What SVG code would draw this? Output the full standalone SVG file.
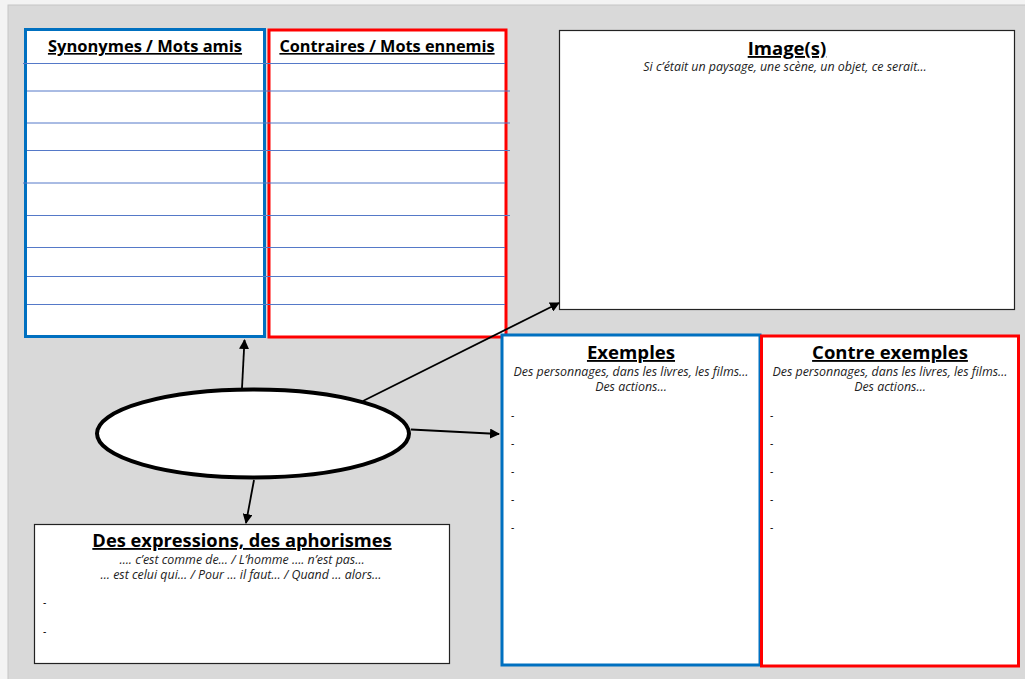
<svg xmlns="http://www.w3.org/2000/svg" width="1025" height="679" viewBox="0 0 1025 679">
<style>
.t{font-family:"Open Sans","Liberation Sans",sans-serif;fill:#000;text-anchor:middle}
.h{font-weight:bold;text-decoration:underline}
.s{font-style:italic;font-size:12.4px;fill:#222}
.d{font-family:"Liberation Sans",sans-serif;font-size:10px;fill:#000}
.ln{stroke:#5579c8;stroke-width:1}
.cn{stroke:#000;stroke-width:1.8;fill:none;marker-end:url(#ah)}
</style>
<defs>
<marker id="ah" markerWidth="10" markerHeight="10" refX="9" refY="5" orient="auto" markerUnits="userSpaceOnUse">
<path d="M0,0 L10,5 L0,10 z" fill="#000"/>
</marker>
</defs>
<rect x="0" y="0" width="1025" height="679" fill="#f3f3f3"/>
<rect x="8" y="5" width="1020" height="680" fill="#d9d9d9" stroke="#c6c6c6" stroke-width="1"/>

<g id="synonymes">
<rect x="25.5" y="29.5" width="239" height="307" fill="#fff" stroke="#0070c0" stroke-width="3"/>
<text class="t h" x="145" y="52" font-size="16.5">Synonymes / Mots amis</text>
</g>
<g id="contraires">
<rect x="269" y="30" width="237" height="307" fill="#fff" stroke="#ff0000" stroke-width="3"/>
<text class="t h" x="387" y="52" font-size="16.3">Contraires / Mots ennemis</text>
</g>
<g id="lignes">
<line class="ln" x1="23" y1="63.5" x2="505" y2="63.5"/>
<line class="ln" x1="27" y1="91" x2="510" y2="91"/>
<line class="ln" x1="27" y1="123" x2="510" y2="123"/>
<line class="ln" x1="27" y1="150.5" x2="510" y2="150.5"/>
<line class="ln" x1="23" y1="183" x2="505" y2="183"/>
<line class="ln" x1="27" y1="215.5" x2="510" y2="215.5"/>
<line class="ln" x1="27" y1="247.5" x2="505" y2="247.5"/>
<line class="ln" x1="27" y1="276.5" x2="505" y2="276.5"/>
<line class="ln" x1="27" y1="304.5" x2="505" y2="304.5"/>
</g>

<g id="image">
<rect x="559.5" y="30.5" width="455" height="279" fill="#fff" stroke="#222" stroke-width="1.2"/>
<text class="t h" x="787" y="55" font-size="18.5">Image(s)</text>
<text class="t s" x="785" y="71" font-size="9.7">Si c’était un paysage, une scène, un objet, ce serait…</text>
</g>

<g id="exemples">
<rect x="502" y="335" width="258" height="330" fill="#fff" stroke="#0070c0" stroke-width="3"/>
<text class="t h" x="631" y="359" font-size="18.6">Exemples</text>
<text class="t s" x="631" y="376">Des personnages, dans les livres, les films…</text>
<text class="t s" x="631" y="391">Des actions…</text>
<text class="d" x="511" y="419">-</text>
<text class="d" x="511" y="447">-</text>
<text class="d" x="511" y="475">-</text>
<text class="d" x="511" y="503">-</text>
<text class="d" x="511" y="531">-</text>
</g>

<g id="contre-exemples">
<rect x="761.5" y="336" width="257" height="330" fill="#fff" stroke="#ff0000" stroke-width="3"/>
<text class="t h" x="890" y="359" font-size="18.5">Contre exemples</text>
<text class="t s" x="890" y="376">Des personnages, dans les livres, les films…</text>
<text class="t s" x="890" y="391">Des actions…</text>
<text class="d" x="770" y="419">-</text>
<text class="d" x="770" y="447">-</text>
<text class="d" x="770" y="475">-</text>
<text class="d" x="770" y="503">-</text>
<text class="d" x="770" y="531">-</text>
</g>

<g id="aphorismes">
<rect x="34.5" y="524.5" width="415" height="139" fill="#fff" stroke="#222" stroke-width="1.2"/>
<text class="t h" x="242" y="547" font-size="18.3">Des expressions, des aphorismes</text>
<text class="t s" x="242" y="564" font-size="13">…. c’est comme de… / L’homme …. n’est pas…</text>
<text class="t s" x="241" y="579" font-size="13">… est celui qui… / Pour … il faut… / Quand … alors…</text>
<text class="d" x="43" y="606">-</text>
<text class="d" x="43" y="635">-</text>
</g>

<g id="centre">
<ellipse cx="253" cy="433.5" rx="156" ry="44" fill="#fff" stroke="#000" stroke-width="4"/>
</g>

<g id="connecteurs">
<line class="cn" x1="242" y1="388" x2="244.5" y2="340"/>
<line class="cn" x1="254" y1="480" x2="246" y2="523"/>
<line class="cn" x1="411" y1="429.5" x2="499" y2="434"/>
<line class="cn" x1="363" y1="401" x2="559" y2="303"/>
</g>
</svg>
